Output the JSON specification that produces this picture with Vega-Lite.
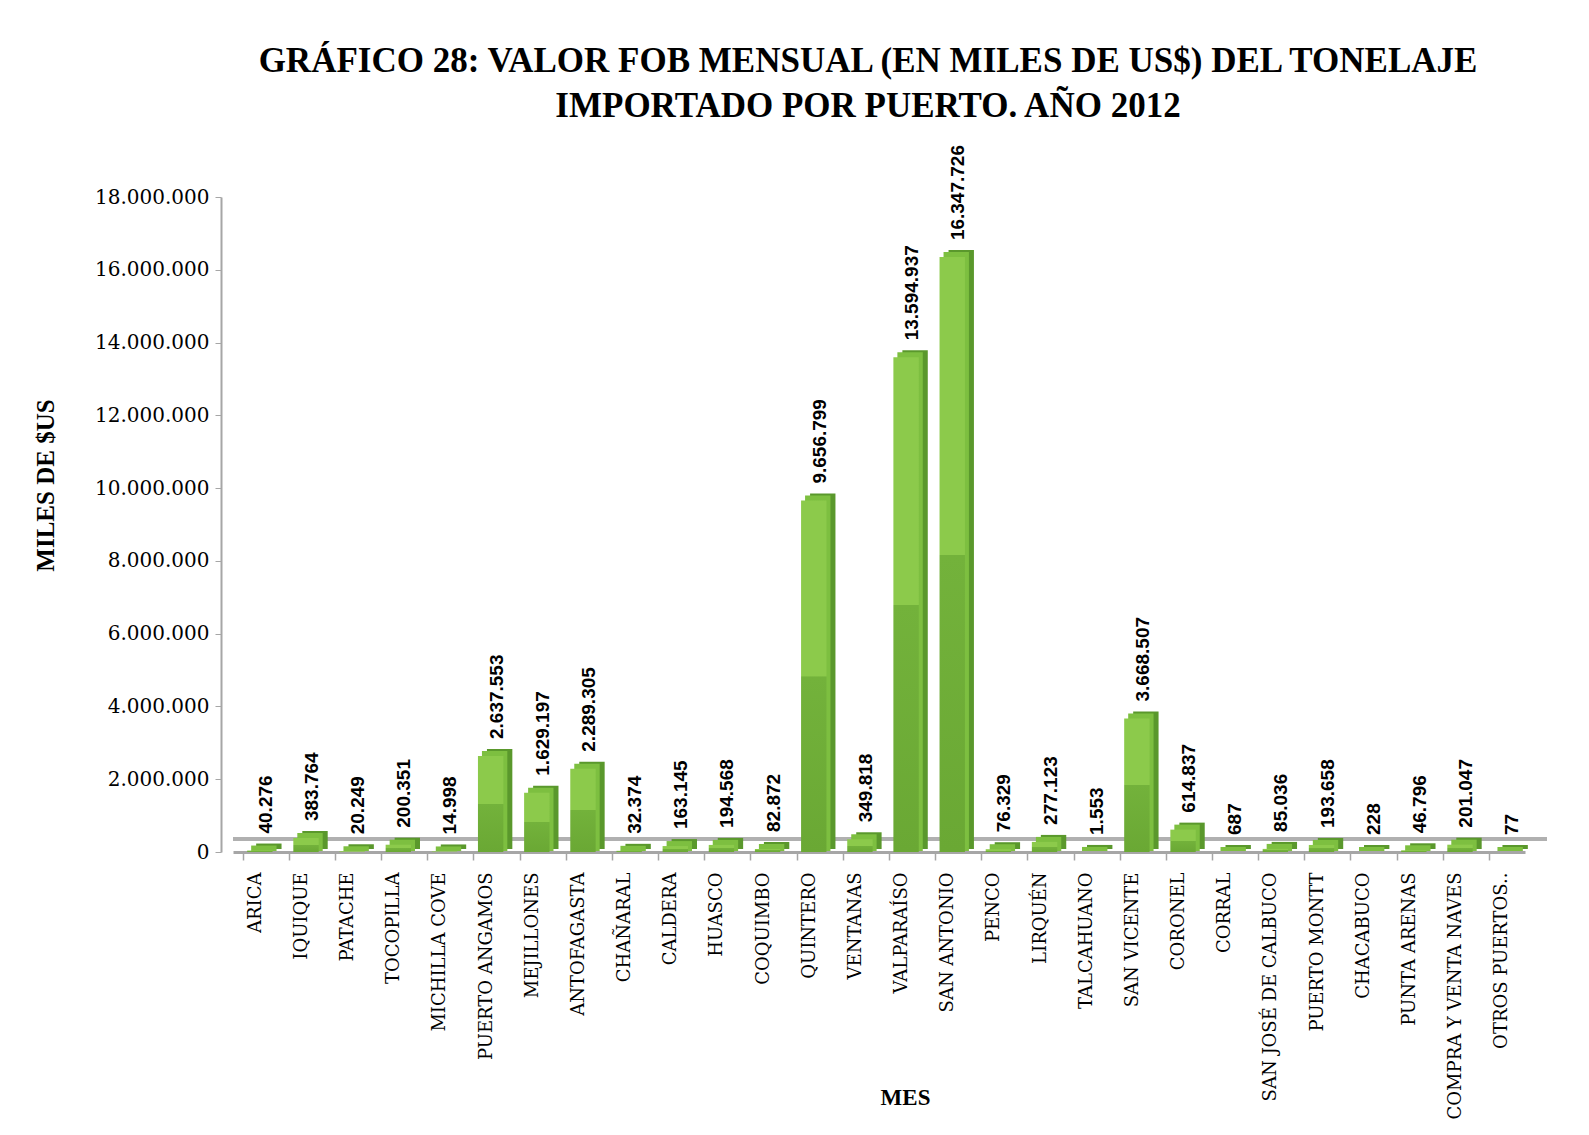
{
  "$schema": "https://vega.github.io/schema/vega-lite/v6.json",
  "autosize": "none",
  "width": 1292,
  "height": 655,
  "padding": {"left": 233, "top": 197, "right": 64, "bottom": 283},
  "background": "white",
  "config": {
    "view": {"stroke": null},
    "locale": {"number": {"decimal": ",", "thousands": ".", "grouping": [3], "currency": ["$", ""]}}
  },
  "title": {
    "text": ["GRÁFICO 28: VALOR FOB MENSUAL (EN MILES DE US$) DEL TONELAJE", "IMPORTADO POR PUERTO. AÑO 2012"],
    "font": "Liberation Serif",
    "fontWeight": "bold",
    "fontSize": 35,
    "color": "#000000",
    "anchor": "middle",
    "frame": "group",
    "lineHeight": 45,
    "offset": 21,
    "dx": -11
  },
  "data": {
    "values": [
      {"puerto": "ARICA", "valor": 40276},
      {"puerto": "IQUIQUE", "valor": 383764},
      {"puerto": "PATACHE", "valor": 20249},
      {"puerto": "TOCOPILLA", "valor": 200351},
      {"puerto": "MICHILLA COVE", "valor": 14998},
      {"puerto": "PUERTO ANGAMOS", "valor": 2637553},
      {"puerto": "MEJILLONES", "valor": 1629197},
      {"puerto": "ANTOFAGASTA", "valor": 2289305},
      {"puerto": "CHAÑARAL", "valor": 32374},
      {"puerto": "CALDERA", "valor": 163145},
      {"puerto": "HUASCO", "valor": 194568},
      {"puerto": "COQUIMBO", "valor": 82872},
      {"puerto": "QUINTERO", "valor": 9656799},
      {"puerto": "VENTANAS", "valor": 349818},
      {"puerto": "VALPARAÍSO", "valor": 13594937},
      {"puerto": "SAN ANTONIO", "valor": 16347726},
      {"puerto": "PENCO", "valor": 76329},
      {"puerto": "LIRQUÉN", "valor": 277123},
      {"puerto": "TALCAHUANO", "valor": 1553},
      {"puerto": "SAN VICENTE", "valor": 3668507},
      {"puerto": "CORONEL", "valor": 614837},
      {"puerto": "CORRAL", "valor": 687},
      {"puerto": "SAN JOSÉ DE CALBUCO", "valor": 85036},
      {"puerto": "PUERTO MONTT", "valor": 193658},
      {"puerto": "CHACABUCO", "valor": 228},
      {"puerto": "PUNTA ARENAS", "valor": 46796},
      {"puerto": "COMPRA Y VENTA NAVES", "valor": 201047},
      {"puerto": "OTROS PUERTOS..", "valor": 77}
    ]
  },
  "encoding": {
    "x": {
      "field": "puerto",
      "type": "nominal",
      "sort": null,
      "scale": {"paddingInner": 0.45, "paddingOuter": 0.22},
      "axis": {
        "title": "MES",
        "titleFont": "Liberation Serif",
        "titleFontWeight": "bold",
        "titleFontSize": 23,
        "titleColor": "#000000",
        "titleX": 672,
        "titleY": 245,
        "titleBaseline": "middle",
        "titleAlign": "center",
        "labelAngle": -90,
        "labelFont": "DejaVu Serif",
        "labelFontSize": 18,
        "labelColor": "#000000",
        "labelPadding": 12,
        "tickSize": 8,
        "tickColor": "#a6a6a6",
        "tickWidth": 1.5,
        "bandPosition": 0,
        "domainColor": "#a6a6a6",
        "domainWidth": 3,
        "labelLimit": 400
      }
    }
  },
  "layer": [
    {
      "mark": {"type": "rule", "color": "#b0b0b0", "strokeWidth": 2.5, "yOffset": -13, "xOffset": 22},
      "encoding": {"x": null, "y": {"datum": 0, "type": "quantitative"}}
    },
    {
      "mark": {"type": "bar", "color": "#5a982c", "xOffset": 13, "yOffset": -7, "y2Offset": -3},
      "encoding": {
        "y": {
          "field": "valor",
          "type": "quantitative",
          "scale": {"domain": [0, 18000000]},
          "axis": {
            "title": "MILES DE $US",
            "titleFont": "Liberation Serif",
            "titleFontWeight": "bold",
            "titleFontSize": 25,
            "titleColor": "#000000",
            "titleAngle": 270,
            "titleX": -176,
            "titleY": 288,
            "titleAlign": "center",
            "titleBaseline": "middle",
            "values": [0, 2000000, 4000000, 6000000, 8000000, 10000000, 12000000, 14000000, 16000000, 18000000],
            "format": ",d",
            "labelFont": "DejaVu Serif",
            "labelFontSize": 20,
            "labelColor": "#000000",
            "labelPadding": 6,
            "tickSize": 6,
            "tickColor": "#a6a6a6",
            "domainColor": "#a6a6a6",
            "domainWidth": 2,
            "grid": false,
            "offset": 12
          }
        },
        "y2": {"datum": 0}
      }
    },
    {
      "mark": {"type": "bar", "color": "#7dbf40", "xOffset": 8, "yOffset": -5, "y2Offset": -1},
      "encoding": {"y": {"field": "valor", "type": "quantitative"}, "y2": {"datum": 0}}
    },
    {
      "mark": {
        "type": "bar",
        "xOffset": 4,
        "color": {
          "gradient": "linear",
          "x1": 0, "x2": 0, "y1": 0, "y2": 1,
          "stops": [
            {"offset": 0, "color": "#8cca4b"},
            {"offset": 0.5, "color": "#8cca4b"},
            {"offset": 0.501, "color": "#73b23b"},
            {"offset": 1, "color": "#6aa834"}
          ]
        }
      },
      "encoding": {"y": {"field": "valor", "type": "quantitative"}}
    },
    {
      "mark": {"type": "text", "angle": 270, "align": "left", "baseline": "middle", "font": "Liberation Sans", "fontWeight": "bold", "fontSize": 19, "color": "#000000", "dx": 17, "xOffset": 10},
      "encoding": {
        "y": {"field": "valor", "type": "quantitative"},
        "text": {"field": "valor", "type": "quantitative", "format": ",d"}
      }
    }
  ]
}
